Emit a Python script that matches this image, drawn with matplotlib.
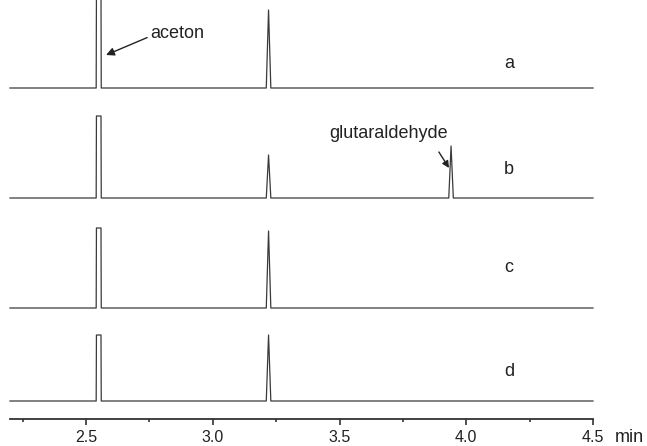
import numpy as np
import matplotlib.pyplot as plt

plt.rcParams["font.family"] = ["Liberation Sans", "DejaVu Sans"]

# chromatograms a-d, retention time (min) and peak height (arbitrary units)
traces = ["a", "b", "c", "d"]
offsets = [331, 221, 111, 18]
peak_times = {
    "a": [2.55, 3.22],
    "b": [2.55, 3.22, 3.94],
    "c": [2.55, 3.22],
    "d": [2.55, 3.22],
}
peak_heights = {
    "a": [95, 78],
    "b": [82, 43, 52],
    "c": [80, 77],
    "d": [66, 66],
}
t_start, t_end = 2.2, 4.5
xticks = [2.5, 3.0, 3.5, 4.0, 4.5]
xtick_labels = ["2.5", "3.0", "3.5", "4.0", "4.5"]


def trace_xy(times, heights, base):
    xs = [t_start]
    ys = [base]
    for t, h in zip(times, heights):
        if abs(t - 2.55) < 0.01:
            # saturated solvent peak: two almost parallel flanks
            xs += [t - 0.010, t - 0.009, t + 0.009, t + 0.010]
            ys += [base, base + h, base + h, base]
        else:
            xs += [t - 0.009, t, t + 0.009]
            ys += [base, base + h, base]
    xs.append(t_end)
    ys.append(base)
    return np.array(xs), np.array(ys)


fig = plt.figure(figsize=(6.47, 4.46), dpi=100)
ax = fig.add_axes([10 / 647, 27 / 446, 583 / 647, 419 / 446])
ax.set_xlim(t_start, t_end)
ax.set_ylim(0, 419)

for name, base in zip(traces, offsets):
    x, y = trace_xy(peak_times[name], peak_heights[name], base)
    ax.plot(x, y, color="#3a3a3a", lw=0.9, clip_on=False)

label_y = {"a": 356, "b": 250, "c": 151, "d": 47}
for name in traces:
    ax.text(4.168, label_y[name], name, fontsize=13, color="#222222",
            ha="center", va="center")

ax.annotate("aceton", xy=(2.579, 364), xytext=(2.752, 386),
            fontsize=13, color="#222222", va="center", ha="left",
            arrowprops=dict(arrowstyle="-|>", color="#222222", lw=1,
                            mutation_scale=12, shrinkA=0, shrinkB=0,
                            relpos=(0, 0.3)))
ax.annotate("glutaraldehyde", xy=(3.932, 251), xytext=(3.928, 285),
            fontsize=13, color="#222222", va="center", ha="right")
ax.annotate("", xy=(3.932, 251), xytext=(3.892, 267),
            arrowprops=dict(arrowstyle="-|>", color="#222222", lw=1,
                            mutation_scale=10, shrinkA=0, shrinkB=0))

for s in ["left", "right", "top"]:
    ax.spines[s].set_visible(False)
ax.spines["bottom"].set_color("#333333")
ax.spines["bottom"].set_linewidth(1.3)
ax.set_yticks([])
ax.set_xticks(xticks)
ax.set_xticklabels(xtick_labels)
ax.set_xticks([2.25, 2.75, 3.25, 3.75, 4.25], minor=True)
ax.tick_params(axis="x", which="major", direction="out", length=4,
               width=1.2, color="#333333", labelsize=11.5,
               labelcolor="#222222", pad=4)
ax.tick_params(axis="x", which="minor", direction="out", length=2.5,
               width=1.2, color="#333333")
ax.text(4.585, -19, "min", fontsize=13, color="#222222",
        ha="left", va="center", clip_on=False)

fig.savefig("out.png", dpi=100)
